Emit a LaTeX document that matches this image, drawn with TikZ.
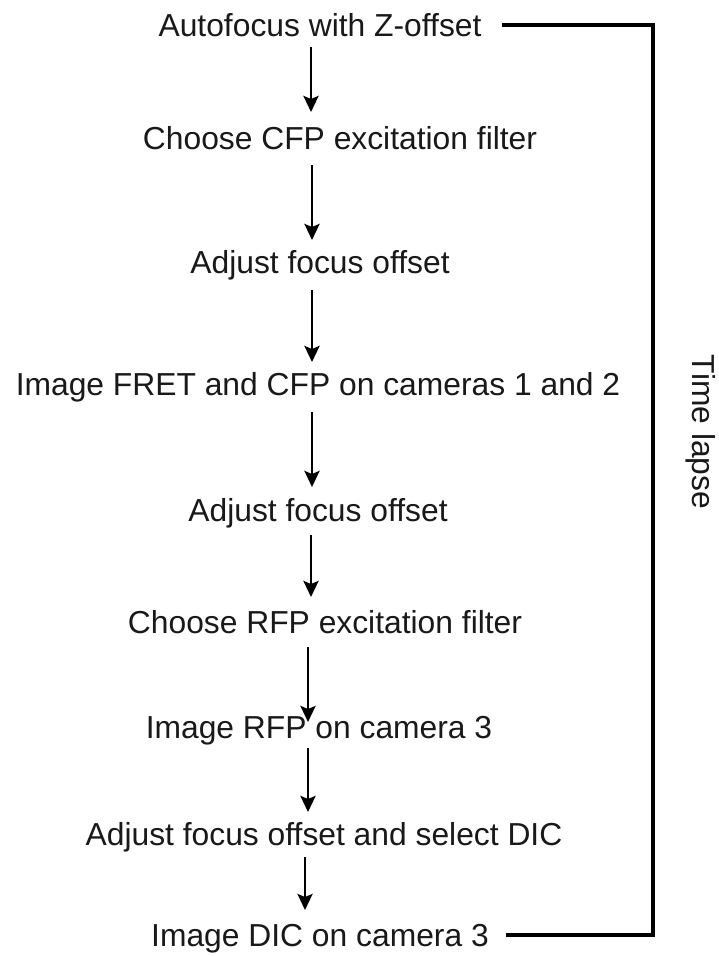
\documentclass[tikz,border=0pt]{standalone}
\usepackage{fontspec}
\setmainfont{Liberation Sans}
\usetikzlibrary{arrows.meta}

\tikzset{
  stepbox/.style={anchor=base, inner sep=0pt, text height=22pt, text depth=0pt,
    font=\fontsize{31.8}{38}\selectfont, text=black!90},
  flow/.style={line width=2.9pt, -{Stealth[length=16pt,width=15pt,inset=3pt]}},
  loopline/.style={line width=3.3pt, line join=miter}
}

\begin{document}
\begin{tikzpicture}[x=1pt,y=-1pt]
  \useasboundingbox (0,0) rectangle (718,956);
  \fill[white] (0,0) rectangle (718,956);

  % protocol steps, placed on their baselines
  \node[stepbox] (t1) at (320,36)  {Autofocus with Z-offset};
  \node[stepbox] (t2) at (340,149) {Choose CFP excitation filter};
  \node[stepbox] (t3) at (320,273) {Adjust focus offset};
  \node[stepbox] (t4) at (318,395) {Image FRET and CFP on cameras 1 and 2};
  \node[stepbox] (t5) at (318,521) {Adjust focus offset};
  \node[stepbox] (t6) at (325,633) {Choose RFP excitation filter};
  \node[stepbox] (t7) at (319,738) {Image RFP on camera 3};
  \node[stepbox] (t8) at (324,845) {Adjust focus offset and select DIC};
  \node[stepbox] (t9) at (320,946) {Image DIC on camera 3};

  % downward arrows: gap below the upper baseline, gap above the lower baseline
  \foreach \i/\j/\x/\s/\e in {1/2/311/11/37, 2/3/312/16/33, 3/4/312/17/33, 4/5/312/17/34,
                               5/6/311/14/36, 6/7/308/14/16, 7/8/308/10/33, 8/9/305/12/36} {
    \coordinate (ax) at (\x,0);
    \coordinate (ps) at ([yshift=-\s pt]t\i.base);
    \coordinate (pe) at ([yshift=\e pt]t\j.base);
    \draw[flow] (ps -| ax) -- (pe -| ax);
  }

  % repeat bracket with its label
  \coordinate (rtop) at (653,0);
  \draw[loopline] ([xshift=20pt]t1.east) -- (t1.east -| rtop) -- (t9.east -| rtop) -- ([xshift=17pt]t9.east);
  \node[stepbox, rotate=-90] (lapse) at (692,432) {Time lapse};
\end{tikzpicture}
\end{document}
